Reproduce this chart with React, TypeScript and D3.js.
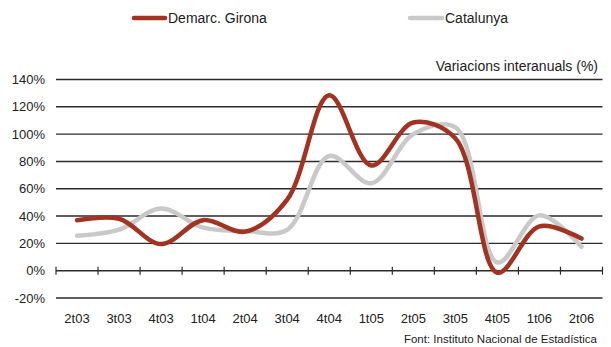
import React from "react";
import * as d3 from "d3";

const categories = ["2t03","3t03","4t03","1t04","2t04","3t04","4t04","1t05","2t05","3t05","4t05","1t06","2t06"];
const girona = [37, 38, 19.5, 37, 28.6, 52, 128.5, 77, 108.5, 97, -1.5, 32.5, 23.5];
const catalunya = [25.6, 30, 45.5, 31.5, 29, 30, 84, 64, 100, 105, 6, 40.5, 17.5];
const yTicks = [-20, 0, 20, 40, 60, 80, 100, 120, 140];

const W = 611, H = 347;
const left = 56, right = 602.5, top = 79.5, bottom = 298;
const font = "'Liberation Sans', Arial, sans-serif";

export default function App() {
  const x = d3.scaleBand<string>().domain(categories).range([left, right]);
  const y = d3.scaleLinear().domain([-20, 140]).range([bottom, top]);
  const line = d3
    .line<number>()
    .x((_, i) => (x(categories[i]) as number) + x.bandwidth() / 2)
    .y((d) => y(d))
    .curve(d3.curveCatmullRom.alpha(0.5));
  const tickXs = categories.map((c) => x(c) as number).concat([right]);
  return (
    <svg width={W} height={H} style={{ position: "absolute", left: 0, top: 0, background: "#fff" }}>
      {yTicks.map((t) => (
        <g key={t}>
          <line x1={left} x2={right} y1={y(t)} y2={y(t)} stroke="#2b2b2b" strokeWidth={1.4} />
          <text x={45} y={y(t) + 4.5} textAnchor="end" fontFamily={font} fontSize={13} fill="#222">
            {t}%
          </text>
        </g>
      ))}
      {tickXs.map((tx, i) => (
        <line key={i} x1={tx} x2={tx} y1={y(0) - 4} y2={y(0) + 4} stroke="#2b2b2b" strokeWidth={1.2} />
      ))}
      {categories.map((c) => (
        <text key={c} x={(x(c) as number) + x.bandwidth() / 2} y={323} textAnchor="middle" fontFamily={font} fontSize={13} fill="#222">
          {c}
        </text>
      ))}
      <path d={line(catalunya) || ""} fill="none" stroke="#c9c9c9" strokeWidth={4.5} strokeLinecap="round" />
      <path d={line(girona) || ""} fill="none" stroke="#a23221" strokeWidth={4.5} strokeLinecap="round" />
      <text x={598} y={71} textAnchor="end" fontFamily={font} fontSize={14} fill="#222">
        Variacions interanuals (%)
      </text>
      <text x={597} y={343} textAnchor="end" fontFamily={font} fontSize={11.5} fill="#222">
        Font: Instituto Nacional de Estadística
      </text>
      <line x1={134} x2={165} y1={18} y2={18} stroke="#a23221" strokeWidth={4.5} strokeLinecap="round" />
      <text x={168} y={23} fontFamily={font} fontSize={14} fill="#222">Demarc. Girona</text>
      <line x1={410} x2={442} y1={18} y2={18} stroke="#c9c9c9" strokeWidth={4.5} strokeLinecap="round" />
      <text x={445} y={23} fontFamily={font} fontSize={14} fill="#222">Catalunya</text>
    </svg>
  );
}
